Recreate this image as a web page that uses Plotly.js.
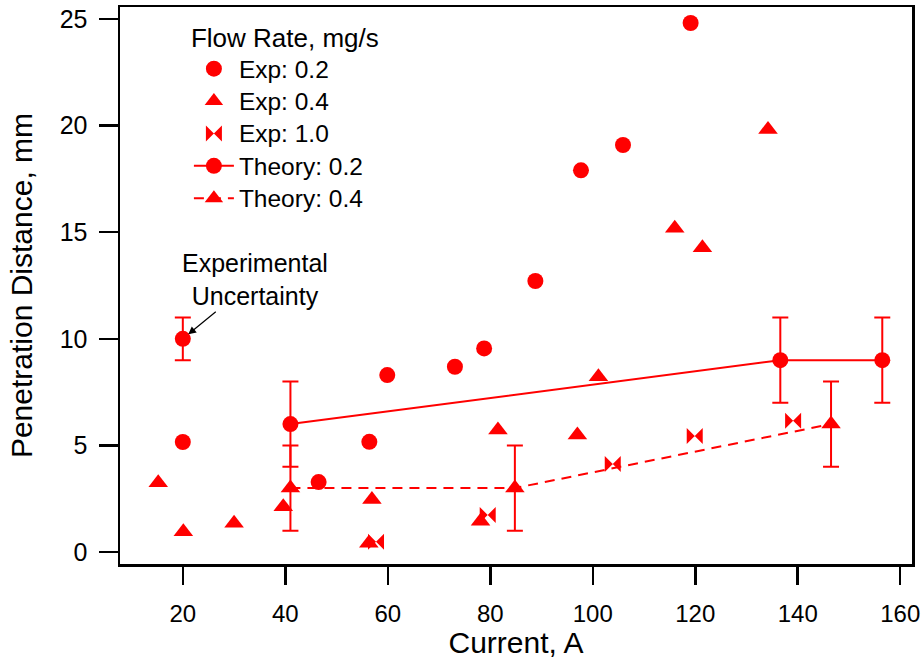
<!DOCTYPE html>
<html>
<head>
<meta charset="utf-8">
<script src="https://cdn.plot.ly/plotly-3.0.1.min.js"></script>
<style>html,body{margin:0;padding:0;background:#fff;}#chart{width:922px;height:659px;}</style>
</head>
<body>
<div id="chart"></div>
<script>
// Experimental data, flow rate 0.2 mg/s
const exp02X = [20, 20, 46.5, 56.4, 59.9, 73.1, 78.8, 88.8, 97.7, 105.9, 119.1];
const exp02Y = [10.0, 5.16, 3.28, 5.17, 8.3, 8.69, 9.55, 12.71, 17.9, 19.09, 24.81];
// Experimental data, flow rate 0.4 mg/s
const exp04X = [15.2, 20.1, 30.0, 39.6, 56.9, 56.3, 78.1, 81.5, 97.0, 101.1, 116.0, 121.4, 134.2];
const exp04Y = [3.25, 0.95, 1.35, 2.13, 2.47, 0.41, 1.44, 5.72, 5.49, 8.22, 15.18, 14.27, 19.82];
// Experimental data, flow rate 1.0 mg/s
const exp10X = [57.7, 79.5, 103.9, 119.9, 139.1];
const exp10Y = [0.48, 1.74, 4.13, 5.44, 6.16];
// Experimental uncertainty example
const uncX = [20];
const uncY = [10];
const uncErr = [1];
// Theory, 0.2 mg/s
const th02X = [41, 136.6, 156.5];
const th02Y = [6, 9, 9];
const th02Err = [2, 2, 2];
// Theory, 0.4 mg/s
const th04X = [41, 84.8, 146.5];
const th04Y = [3, 3, 6];
const th04Err = [2, 2, 2];

const seriesNames = ['Exp: 0.2', 'Exp: 0.4', 'Exp: 1.0', 'Theory: 0.2', 'Theory: 0.4'];
const xTicks = [20, 40, 60, 80, 100, 120, 140, 160];
const yTicks = [0, 5, 10, 15, 20, 25];

const RED = '#ff0000';
const FONT = '"Liberation Sans", Arial, Helvetica, sans-serif';
const lg = (s) => '<span style="font-size:24.5px">' + s + '</span>';

const traces = [
  {x: exp02X, y: exp02Y, type: 'scatter', mode: 'markers', name: lg(seriesNames[0]),
   marker: {symbol: 'circle', size: 16, color: RED}},
  {x: exp04X, y: exp04Y, type: 'scatter', mode: 'markers', name: lg(seriesNames[1]),
   marker: {symbol: 'triangle-up', size: 17, color: RED}},
  {x: exp10X, y: exp10Y, type: 'scatter', mode: 'markers', name: lg(seriesNames[2]),
   marker: {symbol: 'bowtie', size: 16, color: RED}},
  {x: th02X, y: th02Y, type: 'scatter', mode: 'lines+markers', name: lg(seriesNames[3]),
   line: {color: RED, width: 2}, marker: {symbol: 'circle', size: 16, color: RED}},
  {x: th04X, y: th04Y, type: 'scatter', mode: 'lines+markers', name: lg(seriesNames[4]),
   line: {color: RED, width: 2, dash: '10px,7px'}, marker: {symbol: 'triangle-up', size: 17, color: RED}},
  {x: th02X, y: th02Y, type: 'scatter', mode: 'markers', showlegend: false, hoverinfo: 'skip',
   marker: {size: 1, color: 'rgba(0,0,0,0)'},
   error_y: {type: 'data', array: th02Err, visible: true, color: RED, thickness: 2, width: 8}},
  {x: th04X, y: th04Y, type: 'scatter', mode: 'markers', showlegend: false, hoverinfo: 'skip',
   marker: {size: 1, color: 'rgba(0,0,0,0)'},
   error_y: {type: 'data', array: th04Err, visible: true, color: RED, thickness: 2, width: 8}},
  {x: uncX, y: uncY, type: 'scatter', mode: 'markers', showlegend: false, hoverinfo: 'skip',
   marker: {size: 1, color: 'rgba(0,0,0,0)'},
   error_y: {type: 'data', array: uncErr, visible: true, color: RED, thickness: 2, width: 8}}
];

const layout = {
  width: 922, height: 659,
  margin: {l: 120, r: 10, t: 7, b: 95},
  paper_bgcolor: '#fff', plot_bgcolor: '#fff',
  font: {family: FONT, color: '#000', size: 24},
  showlegend: true,
  legend: {
    x: 0.087, y: 0.988, xanchor: 'left', yanchor: 'top',
    bgcolor: 'rgba(0,0,0,0)', borderwidth: 0,
    font: {family: FONT, size: 22.6, color: '#000'},
    title: {text: 'Flow Rate, mg/s', font: {family: FONT, size: 26, color: '#000'}},
    traceorder: 'normal', itemwidth: 40
  },
  xaxis: {
    range: [7.74, 162.3], tickvals: xTicks, ticktext: xTicks.map(String),
    showgrid: false, zeroline: false,
    showline: true, linecolor: '#000', linewidth: 2.5, mirror: true,
    ticks: 'outside', ticklen: 18, tickwidth: 2.5, tickcolor: '#000',
    tickfont: {family: FONT, size: 24, color: '#000'}, ticklabelstandoff: 9,
    title: {text: 'Current, A', font: {family: FONT, size: 30, color: '#000'}, standoff: 7}
  },
  yaxis: {
    range: [-0.56, 25.56], tickvals: yTicks, ticktext: yTicks.map(String),
    showgrid: false, zeroline: false,
    showline: true, linecolor: '#000', linewidth: 2.5, mirror: true,
    ticks: 'outside', ticklen: 19, tickwidth: 2.5, tickcolor: '#000',
    tickfont: {family: FONT, size: 25, color: '#000'}, ticklabelstandoff: 6,
    title: {text: 'Penetration Distance, mm', font: {family: FONT, size: 30, color: '#000'}, standoff: 18}
  },
  annotations: [{
    x: uncX[0], y: uncY[0], xref: 'x', yref: 'y',
    text: 'Experimental<br>Uncertainty', showarrow: true,
    ax: 72, ay: -59, arrowcolor: '#000', arrowhead: 2, arrowsize: 1.3, arrowwidth: 1.2,
    standoff: 7, font: {family: FONT, size: 25, color: '#000'}, align: 'center'
  }]
};

Plotly.newPlot('chart', traces, layout, {displayModeBar: false, staticPlot: true});
</script>
</body>
</html>
